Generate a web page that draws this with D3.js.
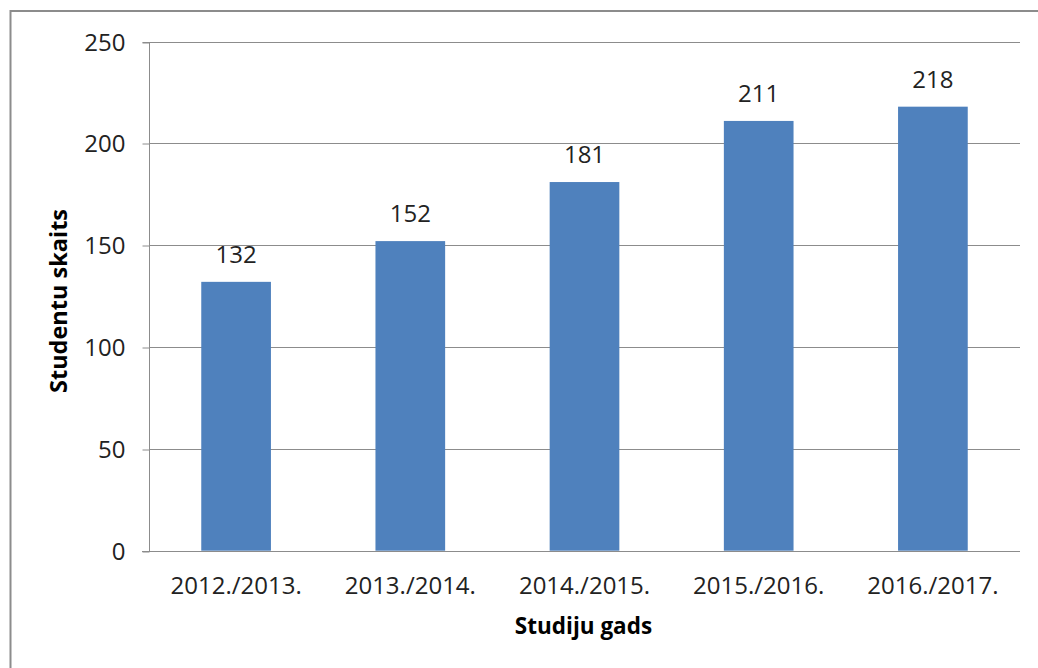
<!DOCTYPE html>
<html><head><meta charset="utf-8">
<script src="https://cdn.jsdelivr.net/npm/d3@7/dist/d3.min.js"></script>
<style>body{margin:0;background:#fff}svg{display:block}</style>
</head><body>
<script>
const categories = ["2012./2013.", "2013./2014.", "2014./2015.", "2015./2016.", "2016./2017."];
const values = [132, 152, 181, 211, 218];
const yTicks = [0, 50, 100, 150, 200, 250];
const yTitle = "Studentu skaits";
const xTitle = "Studiju gads";

const W = 1038, H = 668;
const svg = d3.select("body").append("svg").attr("width", W).attr("height", H);
const font = "'Open Sans', sans-serif";

// outer frame (cropped at right and bottom)
svg.append("path").attr("d", `M10.5,${H + 5} V11 H${W + 5}`)
  .attr("fill", "none").attr("stroke", "#8c8c8c").attr("stroke-width", 2);

const m = {left: 149, right: 1020, top: 41.5, bottom: 550.7};
const x = d3.scaleBand().domain(categories).range([m.left, m.right]).padding(0);
const y = d3.scaleLinear().domain([0, 250]).range([m.bottom, m.top]);

// gridlines
svg.append("g").selectAll("line").data(yTicks.filter(d => d > 0)).join("line")
  .attr("x1", m.left).attr("x2", m.right)
  .attr("y1", d => Math.round(y(d)) + 0.5).attr("y2", d => Math.round(y(d)) + 0.5)
  .attr("stroke", "#8c8c8c").attr("stroke-width", 1);

// bars
const bw = x.bandwidth() * 0.4;
svg.append("g").selectAll("rect").data(values).join("rect")
  .attr("x", (d, i) => x(categories[i]) + (x.bandwidth() - bw) / 2)
  .attr("width", bw)
  .attr("y", d => y(d)).attr("height", d => y(0) - y(d))
  .attr("fill", "#4f81bd");

// y axis
const yAxis = d3.axisLeft(y).tickValues(yTicks).tickSize(7).tickPadding(17);
const ga = svg.append("g").attr("transform", `translate(${m.left + 0.5},0)`).call(yAxis);
ga.select(".domain").attr("stroke", "#8c8c8c").attr("d", `M-7,${Math.round(y(250))+0.5}H0V${Math.round(y(0))+0.5}H-7`);
ga.selectAll(".tick line").attr("stroke", "#8c8c8c").attr("transform", d => `translate(0,${Math.round(y(d)) + 0.5 - y(d)})`);
ga.selectAll(".tick text").attr("font-family", font).attr("font-size", 24).attr("fill", "#222").attr("dy", "0.36em");

// x axis baseline
svg.append("line").attr("x1", m.left - 7).attr("x2", m.right)
  .attr("y1", Math.round(y(0)) + 0.5).attr("y2", Math.round(y(0)) + 0.5)
  .attr("stroke", "#8c8c8c");

const xAxis = d3.axisBottom(x).tickSize(0).tickPadding(0);
const gx = svg.append("g").attr("transform", `translate(0,${y(0)})`).call(xAxis);
gx.select(".domain").remove();
gx.selectAll(".tick text").attr("font-family", font).attr("font-size", 24).attr("fill", "#222")
  .attr("dy", null).attr("y", 43.5);

// value labels
svg.append("g").selectAll("text").data(values).join("text")
  .attr("x", (d, i) => x(categories[i]) + x.bandwidth() / 2)
  .attr("y", d => y(d) - 19)
  .attr("text-anchor", "middle").attr("font-family", font).attr("font-size", 24).attr("fill", "#222")
  .text(d => d);

// titles
svg.append("text").attr("x", (m.left + m.right) / 2 - 1).attr("y", 634)
  .attr("text-anchor", "middle").attr("font-family", font).attr("font-weight", "bold")
  .attr("font-size", 22.5).attr("fill", "#000").text(xTitle);
svg.append("text").attr("transform", `translate(67,301) rotate(-90)`)
  .attr("text-anchor", "middle").attr("font-family", font).attr("font-weight", "bold")
  .attr("font-size", 23.5).attr("fill", "#000").text(yTitle);
</script>
</body></html>
